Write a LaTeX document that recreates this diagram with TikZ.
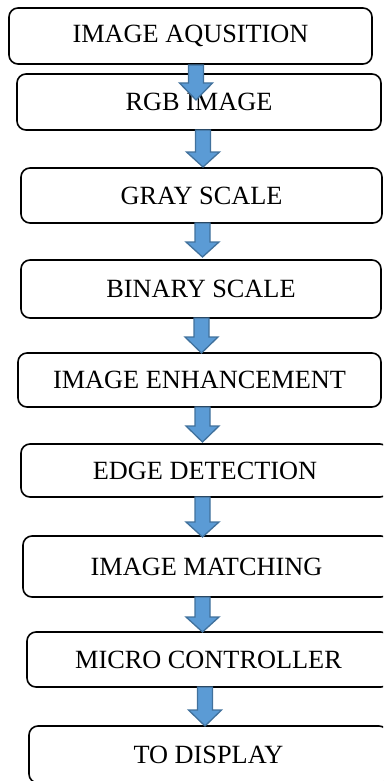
\documentclass[tikz,border=0pt]{standalone}
\usepackage{fontspec}
\setmainfont{Liberation Serif}
\definecolor{arrfill}{HTML}{5B9BD5}
\definecolor{arrline}{HTML}{41719C}
\tikzset{
  box/.style={draw=black, fill=white, line width=1.6pt, rounded corners=9pt,
    inner sep=0pt, font=\fontsize{26.3}{30}\selectfont},
  arr/.style={fill=arrfill, draw=arrline, line width=1.3pt, line join=miter}
}
\newcommand{\barrow}[4]{%
  \filldraw[arr] ({#1-7.5},#2) -- ({#1+7.5},#2) -- ({#1+7.5},#3) -- ({#1+16.5},#3)
    -- (#1,#4) -- ({#1-16.5},#3) -- ({#1-7.5},#3) -- cycle;}
\begin{document}
\begin{tikzpicture}[x=1pt,y=-1pt]
\useasboundingbox (0,0) rectangle (383,781);
\clip (0,0) rectangle (383,781);
\node[box, minimum width=363pt, minimum height=56pt] (n1) at (190.5,36) {IMAGE AQUSITION};
\node[box, minimum width=364pt, minimum height=56pt] (n2) at (199,102) {RGB IMAGE};
\node[box, minimum width=361pt, minimum height=55pt] (n3) at (201.5,195.5) {GRAY SCALE};
\node[box, minimum width=360pt, minimum height=58pt] (n4) at (201,289) {BINARY SCALE};
\node[box, minimum width=363pt, minimum height=54pt] (n5) at (199.5,380) {IMAGE ENHANCEMENT};
\node[box, minimum width=368pt, minimum height=53pt] (n6) at (205,470.5) {EDGE DETECTION};
\node[box, minimum width=367pt, minimum height=61pt] (n7) at (206.5,566.5) {IMAGE MATCHING};
\node[box, minimum width=363pt, minimum height=55pt] (n8) at (208.5,659.5) {MICRO CONTROLLER};
\node[box, minimum width=359pt, minimum height=57pt] (n9) at (208.5,754.5) {TO DISPLAY};
\barrow{196}{65}{83}{100}
\barrow{203}{130}{152}{167}
\barrow{202.5}{223}{242}{257}
\barrow{201.5}{318}{337}{353}
\barrow{202.5}{407}{426}{442}
\barrow{202.5}{497}{522}{537}
\barrow{202.5}{597}{617}{632}
\barrow{205}{687}{710}{726}
\end{tikzpicture}
\end{document}
